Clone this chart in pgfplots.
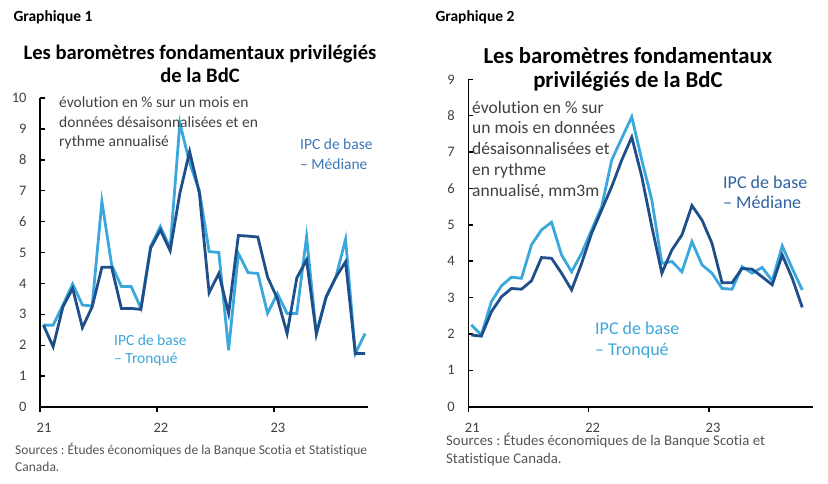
\documentclass[border=0pt]{standalone}
\usepackage{pgfplots}
\usepackage{pgfplotstable}
\pgfplotsset{compat=1.18}
\usepackage{fontspec}
\setmainfont{Carlito}[Ligatures=NoCommon]
\frenchspacing

\definecolor{trq}{HTML}{3AA8DC}
\definecolor{med}{HTML}{1F4F8A}
\definecolor{medlbl}{HTML}{3C78B5}
\definecolor{medlbl2}{HTML}{2F63A0}
\definecolor{txt}{HTML}{404040}
\definecolor{src}{HTML}{555555}

% month index (0 = Jan 2021), Tronque, Mediane
\pgfplotstableread{
m trq med
0 2.65 2.65
1 2.65 1.95
2 3.30 3.24
3 3.98 3.84
4 3.30 2.57
5 3.27 3.24
6 6.65 4.52
7 4.60 4.52
8 3.90 3.19
9 3.90 3.19
10 3.20 3.16
11 5.20 5.14
12 5.84 5.73
13 5.14 5.06
14 9.19 6.92
15 7.90 8.27
16 7.00 6.92
17 5.03 3.70
18 5.00 4.32
19 1.84 3.03
20 4.97 5.55
21 4.35 5.53
22 4.32 5.50
23 3.03 4.20
24 3.67 3.51
25 3.03 2.38
26 3.03 4.18
27 5.51 4.76
28 2.38 2.36
29 3.57 3.55
30 4.20 4.20
31 5.43 4.70
32 1.73 1.73
33 2.38 1.73
}\mensuel

% 3-month moving average
\pgfplotstableread{
m trq med
0 2.25 1.97
1 1.97 1.94
2 2.89 2.61
3 3.32 3.02
4 3.56 3.25
5 3.53 3.23
6 4.45 3.46
7 4.86 4.10
8 5.07 4.08
9 4.17 3.67
10 3.71 3.21
11 4.22 3.94
12 4.86 4.77
13 5.50 5.41
14 6.78 6.05
15 7.38 6.78
16 7.97 7.41
17 6.78 6.32
18 5.68 4.95
19 3.94 3.67
20 3.99 4.31
21 3.71 4.72
22 4.54 5.53
23 3.90 5.13
24 3.67 4.49
25 3.25 3.41
26 3.23 3.41
27 3.85 3.80
28 3.67 3.78
29 3.83 3.57
30 3.46 3.35
31 4.42 4.17
32 3.80 3.53
33 3.21 2.73
}\moyenne

\pgfplotsset{
  baro/.style={
    scale only axis,
    anchor=south west,
    axis x line*=bottom,
    axis y line*=left,
    axis line style={line width=1.6pt, black},
    xmin=0,
    ymin=0,
    xtick={0,12,24},
    xticklabels={21,22,23},
    major tick length=5pt,
    xtick align=outside,
    ytick align=inside,
    tick style={line width=1.4pt, black},
    tick label style={font=\fontsize{14.5}{14.5}\selectfont, text=txt},
    xticklabel style={xshift=4pt, yshift=-8pt},
    yticklabel style={xshift=-10pt},
    /pgf/number format/assume math mode=true,
    clip=false,
  },
}

\begin{document}
\begin{tikzpicture}
\useasboundingbox (0,0) rectangle (828pt,483pt);

% ---- Graphique 1
\node[anchor=base west, font=\fontsize{15.5}{15.5}\selectfont\bfseries] at (10pt,461.5pt) {Graphique 1};
\node[anchor=base, font=\fontsize{20.6}{20.6}\selectfont\bfseries] at (200pt,423.7pt) {Les baromètres fondamentaux privilégiés};
\node[anchor=base, font=\fontsize{20.6}{20.6}\selectfont\bfseries] at (200pt,400pt) {de la BdC};

\begin{axis}[baro,
  at={(40pt,76pt)}, width=328pt, height=309pt,
  xmax=33.65, ymax=10, ytick={0,1,...,10}]
  \addplot[trq, line width=2.8pt] table[x expr=\thisrow{m}+0.35, y=trq] {\mensuel};
  \addplot[med, line width=2.8pt] table[x expr=\thisrow{m}+0.35, y=med] {\mensuel};
\end{axis}

\begin{scope}[every node/.style={anchor=base west, font=\fontsize{15.5}{15.5}\selectfont, text=txt, inner sep=0pt}]
\node at (59pt,375pt) {évolution en \% sur un mois en};
\node at (59pt,355.5pt) {données désaisonnalisées et en};
\node at (59pt,336.3pt) {rythme annualisé};
\end{scope}
\begin{scope}[every node/.style={anchor=base west, font=\fontsize{15.5}{15.5}\selectfont, inner sep=0pt}]
\node[text=medlbl] at (300pt,333pt) {IPC de base};
\node[text=medlbl] at (300pt,313.7pt) {– Médiane};
\node[text=trq] at (114pt,138pt) {IPC de base};
\node[text=trq] at (114pt,119.7pt) {– Tronqué};
\end{scope}
\begin{scope}[every node/.style={anchor=base west, font=\fontsize{13.5}{13.5}\selectfont, text=src, inner sep=0pt}]
\node at (15pt,29pt) {Sources : Études économiques de la Banque Scotia et Statistique};
\node at (15pt,11.3pt) {Canada.};
\end{scope}

% ---- Graphique 2
\node[anchor=base west, font=\fontsize{15.5}{15.5}\selectfont\bfseries] at (432pt,461.5pt) {Graphique 2};
\node[anchor=base, font=\fontsize{22.8}{22.8}\selectfont\bfseries] at (628pt,419.7pt) {Les baromètres fondamentaux};
\node[anchor=base, font=\fontsize{22.8}{22.8}\selectfont\bfseries] at (628pt,395.7pt) {privilégiés de la BdC};

\begin{axis}[baro,
  at={(468.3pt,76.3pt)}, width=345pt, height=327.4pt,
  xmax=34.4, ymax=9, ytick={0,1,...,9}]
  \addplot[trq, line width=2.8pt] table[x expr=\thisrow{m}+0.3, y=trq] {\moyenne};
  \addplot[med, line width=2.8pt] table[x expr=\thisrow{m}+0.3, y=med] {\moyenne};
\end{axis}

\begin{scope}[every node/.style={anchor=base west, font=\fontsize{17.5}{17.5}\selectfont, text=txt, inner sep=0pt}]
\node at (472pt,369.7pt) {évolution en \% sur};
\node at (472pt,349pt) {un mois en données};
\node at (472pt,328pt) {désaisonnalisées et};
\node at (472pt,307pt) {en rythme};
\node at (472pt,286.3pt) {annualisé, mm3m};
\end{scope}
\begin{scope}[every node/.style={anchor=base west, font=\fontsize{18}{18}\selectfont, inner sep=0pt}]
\node[text=medlbl2] at (723pt,294.7pt) {IPC de base};
\node[text=medlbl2] at (723pt,274pt) {– Médiane};
\node[text=trq] at (595pt,149pt) {IPC de base};
\node[text=trq] at (595pt,128pt) {– Tronqué};
\end{scope}
\begin{scope}[every node/.style={anchor=base west, font=\fontsize{14.8}{14.8}\selectfont, text=src, inner sep=0pt}]
\node at (446pt,37.3pt) {Sources : Études économiques de la Banque Scotia et};
\node at (446pt,19.7pt) {Statistique Canada.};
\end{scope}
\end{tikzpicture}
\end{document}
